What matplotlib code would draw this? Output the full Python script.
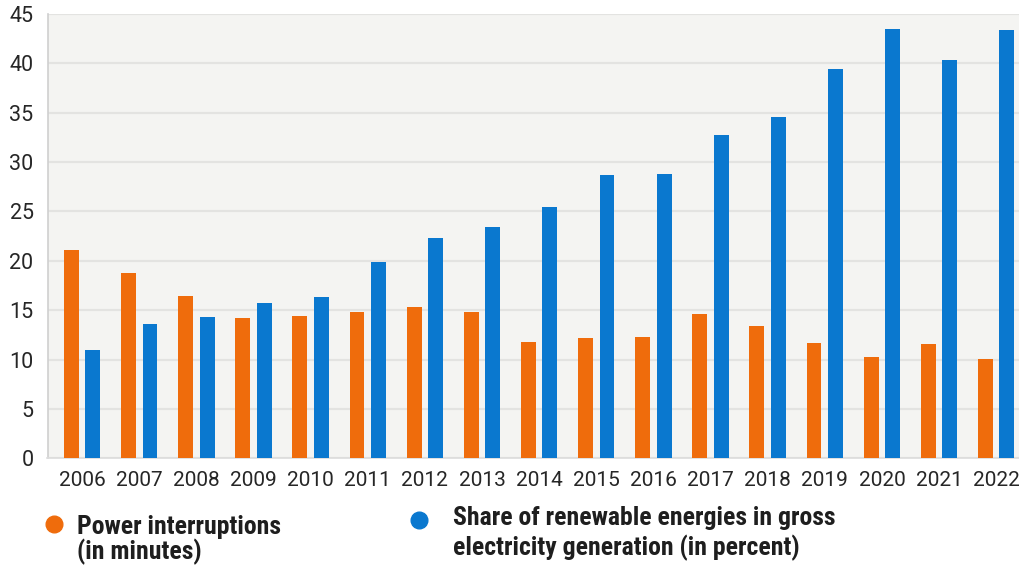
import matplotlib
matplotlib.use("Agg")
import matplotlib.pyplot as plt
from matplotlib import font_manager
from matplotlib.lines import Line2D
import numpy as np

years = ["2006", "2007", "2008", "2009", "2010", "2011", "2012", "2013", "2014",
         "2015", "2016", "2017", "2018", "2019", "2020", "2021", "2022"]
power_interruptions = [21.1, 18.8, 16.4, 14.2, 14.4, 14.8, 15.3, 14.8, 11.8,
                       12.2, 12.3, 14.6, 13.4, 11.7, 10.25, 11.6, 10.1]
renewable_share = [11.0, 13.6, 14.3, 15.7, 16.3, 19.9, 22.3, 23.4, 25.4,
                   28.7, 28.8, 32.7, 34.5, 39.4, 43.5, 40.3, 43.4]
y_ticks = [0, 5, 10, 15, 20, 25, 30, 35, 40, 45]
legend_lines = [["Power interruptions", "(in minutes)"],
                ["Share of renewable energies in gross", "electricity generation (in percent)"]]

ORANGE = "#ef6c0c"
BLUE = "#0a78cf"

available = {f.name for f in font_manager.fontManager.ttflist}
def pick(cands):
    for c in cands:
        if c in available:
            return c
    return "DejaVu Sans"

narrow = pick(["Roboto Condensed", "Liberation Sans Narrow", "Arial Narrow", "Roboto", "DejaVu Sans"])
tickfont = pick(["Roboto", "DejaVu Sans"])
plt.rcParams["font.family"] = [tickfont, "DejaVu Sans"]

H, W = 567, 1019
fig = plt.figure(figsize=(W / 100, H / 100), dpi=100)
fig.patch.set_facecolor("white")
ax = fig.add_axes([47.5 / W, 1 - 458.3 / H, 1 - 47.5 / W, (458.3 - 13.7) / H])
ax.set_facecolor("#f4f4f2")

x = np.arange(len(years))
w = 0.26
off = 0.188
ax.bar(x - off, power_interruptions, width=w, color=ORANGE, zorder=3)
ax.bar(x + off, renewable_share, width=w, color=BLUE, zorder=3)

ax.set_xlim(-0.606, 16.4)
ax.set_ylim(0, 45)
ax.set_yticks(y_ticks)
ax.set_yticklabels([str(v) for v in y_ticks], fontsize=15.5, color="#262626")
ax.set_xticks(x)
ax.set_xticklabels(years, fontsize=15, color="#262626")
ax.tick_params(axis="both", length=0)
ax.tick_params(axis="y", pad=10)
ax.tick_params(axis="x", pad=9)
ax.yaxis.grid(True, color="#e3e3e1", linewidth=1.6, zorder=0)
ax.set_axisbelow(True)
for s in ["top", "right"]:
    ax.spines[s].set_visible(False)
ax.spines["left"].set_color("#cfcfcf")
ax.spines["left"].set_linewidth(1.2)
ax.spines["bottom"].set_color("#dcdcdc")
ax.spines["bottom"].set_linewidth(1.2)

# legend (manual, below the chart)
entries = [
    dict(col=ORANGE, cx=53.5, cy=524, tx=77, b1=534, b2=559),
    dict(col=BLUE, cx=418.5, cy=520, tx=453, b1=525, b2=555),
]
for e, lines in zip(entries, legend_lines):
    fig.add_artist(Line2D([e["cx"] / W], [1 - e["cy"] / H], marker="o", markersize=12,
                          color=e["col"], linestyle="none", transform=fig.transFigure))
    for txt, b in zip(lines, [e["b1"], e["b2"]]):
        fig.text(e["tx"] / W, 1 - b / H, txt, ha="left", va="baseline", fontsize=18.5,
                 fontweight="bold", family=[narrow, "DejaVu Sans"], color="#1e1e1e")

fig.savefig("out.png", dpi=100, facecolor="white")
